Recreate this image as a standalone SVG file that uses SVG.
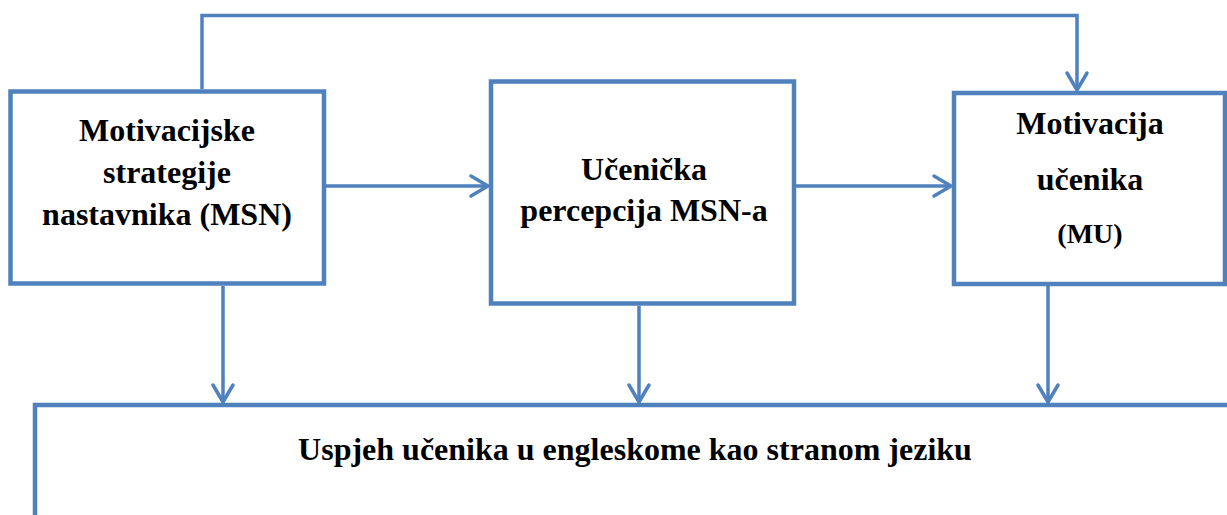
<svg xmlns="http://www.w3.org/2000/svg" width="1227" height="515" viewBox="0 0 1227 515">
  <style>
    .box { fill: #FFFFFF; stroke: #4F81BD; stroke-width: 4.5; }
    .conn { fill: none; stroke: #4F81BD; stroke-width: 3.5; }
    .lbl { font-family: "Liberation Serif", "Times New Roman", serif; font-weight: bold; font-size: 32px; fill: #000000; text-anchor: middle; }
  </style>
  <defs>
    <marker id="ah" markerUnits="userSpaceOnUse" markerWidth="30" markerHeight="30" viewBox="-22 -15 30 30" refX="0" refY="0" orient="auto" overflow="visible">
      <path d="M-17,-10 L0,0 L-17,10" fill="none" stroke="#4F81BD" stroke-width="3.5" stroke-linecap="round" stroke-linejoin="round"/>
    </marker>
  </defs>
  <rect width="1227" height="515" fill="#FFFFFF"/>

  <g id="node-uspjeh">
    <rect class="box" x="35" y="405" width="1300" height="200"/>
    <text class="lbl" x="635" y="460">Uspjeh učenika u engleskome kao stranom jeziku</text>
  </g>

  <g id="node-msn">
    <rect class="box" x="10.5" y="91.5" width="313.5" height="192"/>
    <text class="lbl" x="167" y="141">Motivacijske</text>
    <text class="lbl" x="167" y="183">strategije</text>
    <text class="lbl" x="167" y="225">nastavnika (MSN)</text>
  </g>

  <g id="node-percepcija">
    <rect class="box" x="491" y="81.5" width="303" height="222"/>
    <text class="lbl" x="644" y="180">Učenička</text>
    <text class="lbl" x="644" y="221">percepcija MSN-a</text>
  </g>

  <g id="node-mu">
    <rect class="box" x="954" y="93" width="271" height="191"/>
    <text class="lbl" x="1090" y="134">Motivacija</text>
    <text class="lbl" x="1090" y="190">učenika</text>
    <text class="lbl" x="1090" y="243" style="font-size:28px">(MU)</text>
  </g>

  <g id="connectors">
    <path class="conn" d="M202,89 L202,15.5 L1077,15.5 L1077,90" marker-end="url(#ah)"/>
    <path class="conn" d="M326,186 L488,186" marker-end="url(#ah)"/>
    <path class="conn" d="M796,186 L951,186" marker-end="url(#ah)"/>
    <path class="conn" d="M223,286 L223,402" marker-end="url(#ah)"/>
    <path class="conn" d="M639,306 L639,402" marker-end="url(#ah)"/>
    <path class="conn" d="M1048,286 L1048,402" marker-end="url(#ah)"/>
  </g>
</svg>
